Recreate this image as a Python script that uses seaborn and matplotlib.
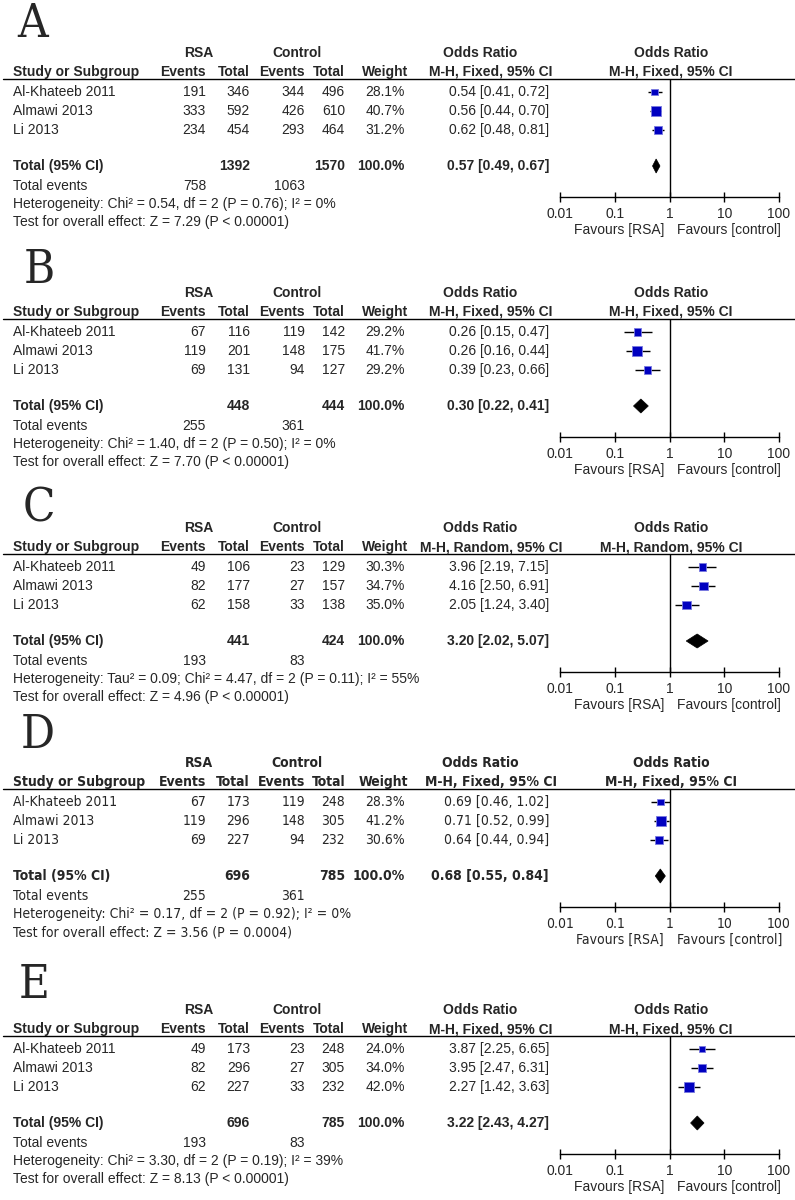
import numpy as np
import seaborn as sns
import matplotlib
matplotlib.use("Agg")
from matplotlib import pyplot as plt
from matplotlib.font_manager import FontProperties, findfont
from matplotlib.patches import Polygon
from matplotlib.ticker import NullLocator

sns.set_style("white")
plt.rcParams["font.family"] = ["Liberation Sans", "DejaVu Sans"]

studies = ["Al-Khateeb 2011", "Almawi 2013", "Li 2013"]

# A
a_rsa_ev = [191, 333, 234]
a_rsa_n = [346, 592, 454]
a_ctl_ev = [344, 426, 293]
a_ctl_n = [496, 610, 464]
a_weight = [28.1, 40.7, 31.2]
a_or = [0.54, 0.56, 0.62]
a_lo = [0.41, 0.44, 0.48]
a_hi = [0.72, 0.70, 0.81]
a_total = [1392, 1570, 758, 1063]
a_pooled = [0.57, 0.49, 0.67]
a_het = "Heterogeneity: Chi\u00b2 = 0.54, df = 2 (P = 0.76); I\u00b2 = 0%"
a_test = "Test for overall effect: Z = 7.29 (P < 0.00001)"

# B
b_rsa_ev = [67, 119, 69]
b_rsa_n = [116, 201, 131]
b_ctl_ev = [119, 148, 94]
b_ctl_n = [142, 175, 127]
b_weight = [29.2, 41.7, 29.2]
b_or = [0.26, 0.26, 0.39]
b_lo = [0.15, 0.16, 0.23]
b_hi = [0.47, 0.44, 0.66]
b_total = [448, 444, 255, 361]
b_pooled = [0.30, 0.22, 0.41]
b_het = "Heterogeneity: Chi\u00b2 = 1.40, df = 2 (P = 0.50); I\u00b2 = 0%"
b_test = "Test for overall effect: Z = 7.70 (P < 0.00001)"

# C
c_rsa_ev = [49, 82, 62]
c_rsa_n = [106, 177, 158]
c_ctl_ev = [23, 27, 33]
c_ctl_n = [129, 157, 138]
c_weight = [30.3, 34.7, 35.0]
c_or = [3.96, 4.16, 2.05]
c_lo = [2.19, 2.50, 1.24]
c_hi = [7.15, 6.91, 3.40]
c_total = [441, 424, 193, 83]
c_pooled = [3.20, 2.02, 5.07]
c_het = "Heterogeneity: Tau\u00b2 = 0.09; Chi\u00b2 = 4.47, df = 2 (P = 0.11); I\u00b2 = 55%"
c_test = "Test for overall effect: Z = 4.96 (P < 0.00001)"

# D
d_rsa_ev = [67, 119, 69]
d_rsa_n = [173, 296, 227]
d_ctl_ev = [119, 148, 94]
d_ctl_n = [248, 305, 232]
d_weight = [28.3, 41.2, 30.6]
d_or = [0.69, 0.71, 0.64]
d_lo = [0.46, 0.52, 0.44]
d_hi = [1.02, 0.99, 0.94]
d_total = [696, 785, 255, 361]
d_pooled = [0.68, 0.55, 0.84]
d_het = "Heterogeneity: Chi\u00b2 = 0.17, df = 2 (P = 0.92); I\u00b2 = 0%"
d_test = "Test for overall effect: Z = 3.56 (P = 0.0004)"

# E
e_rsa_ev = [49, 82, 62]
e_rsa_n = [173, 296, 227]
e_ctl_ev = [23, 27, 33]
e_ctl_n = [248, 305, 232]
e_weight = [24.0, 34.0, 42.0]
e_or = [3.87, 3.95, 2.27]
e_lo = [2.25, 2.47, 1.42]
e_hi = [6.65, 6.31, 3.63]
e_total = [696, 785, 193, 83]
e_pooled = [3.22, 2.43, 4.27]
e_het = "Heterogeneity: Chi\u00b2 = 3.30, df = 2 (P = 0.19); I\u00b2 = 39%"
e_test = "Test for overall effect: Z = 8.13 (P < 0.00001)"

fixed = "M-H, Fixed, 95% CI"
random_ = "M-H, Random, 95% CI"

panels = [
    dict(letter="A", base=0, lx=17, lb=37, method=fixed, narrow=False,
         rsa_ev=a_rsa_ev, rsa_n=a_rsa_n, ctl_ev=a_ctl_ev, ctl_n=a_ctl_n, w=a_weight,
         orr=a_or, lo=a_lo, hi=a_hi, tot=a_total, pool=a_pooled, het=a_het, test=a_test),
    dict(letter="B", base=240, lx=24, lb=283, method=fixed, narrow=False,
         rsa_ev=b_rsa_ev, rsa_n=b_rsa_n, ctl_ev=b_ctl_ev, ctl_n=b_ctl_n, w=b_weight,
         orr=b_or, lo=b_lo, hi=b_hi, tot=b_total, pool=b_pooled, het=b_het, test=b_test),
    dict(letter="C", base=475, lx=23, lb=522, method=random_, narrow=False,
         rsa_ev=c_rsa_ev, rsa_n=c_rsa_n, ctl_ev=c_ctl_ev, ctl_n=c_ctl_n, w=c_weight,
         orr=c_or, lo=c_lo, hi=c_hi, tot=c_total, pool=c_pooled, het=c_het, test=c_test),
    dict(letter="D", base=710, lx=21, lb=748, method=fixed, narrow=True,
         rsa_ev=d_rsa_ev, rsa_n=d_rsa_n, ctl_ev=d_ctl_ev, ctl_n=d_ctl_n, w=d_weight,
         orr=d_or, lo=d_lo, hi=d_hi, tot=d_total, pool=d_pooled, het=d_het, test=d_test),
    dict(letter="E", base=957, lx=19, lb=998, method=fixed, narrow=False,
         rsa_ev=e_rsa_ev, rsa_n=e_rsa_n, ctl_ev=e_ctl_ev, ctl_n=e_ctl_n, w=e_weight,
         orr=e_or, lo=e_lo, hi=e_hi, tot=e_total, pool=e_pooled, het=e_het, test=e_test),
]

W, H = 795, 1200


def condensed(family):
    try:
        path = findfont(FontProperties(family=family, stretch="condensed"),
                        fallback_to_default=False)
        return "Condensed" in path or "Narrow" in path
    except Exception:
        return False


sans = ["Liberation Sans", "DejaVu Sans"]
if condensed("Liberation Sans Narrow"):
    narrow_kw = dict(family=["Liberation Sans Narrow", "DejaVu Sans"], fontsize=11.8)
elif condensed("DejaVu Sans"):
    narrow_kw = dict(family=["DejaVu Sans"], fontstretch="condensed", fontsize=10)
else:
    narrow_kw = dict(family=sans, fontsize=10)

if condensed("DejaVu Serif"):
    letter_kw = dict(family=["DejaVu Serif"], fontstretch="condensed", fontsize=34)
else:
    letter_kw = dict(family=["Liberation Serif"], fontsize=36)

fig = plt.figure(figsize=(W / 100, H / 100), dpi=100)
tab = fig.add_axes([0, 0, 1, 1])
tab.set_xlim(0, W)
tab.set_ylim(H, 0)
tab.axis("off")

# right edges of the table columns
col_x = [206, 250, 305, 345, 405, 549]
row_step = 19


def ci_text(v):
    return f"{v[0]:.2f} [{v[1]:.2f}, {v[2]:.2f}]"


for p in panels:
    b = p["base"]
    fkw = narrow_kw if p["narrow"] else dict(family=sans, fontsize=10)
    kw = dict(fkw, va="center")
    bold = dict(kw, fontweight="bold")

    tab.text(p["lx"], p["lb"], p["letter"], ha="left", va="baseline", **letter_kw)

    # headers
    tab.text(199, b + 53, "RSA", ha="center", **bold)
    tab.text(297, b + 53, "Control", ha="center", **bold)
    tab.text(480, b + 53, "Odds Ratio", ha="center", **bold)
    tab.text(671, b + 53, "Odds Ratio", ha="center", **bold)
    tab.text(13, b + 72, "Study or Subgroup", ha="left", **bold)
    for x, lab in zip(col_x[:5], ["Events", "Total", "Events", "Total", "Weight"]):
        tab.text(x + (3 if lab == "Weight" else 0), b + 72, lab, ha="right", **bold)
    tab.text(491, b + 72, p["method"], ha="center", **bold)
    tab.text(671, b + 72, p["method"], ha="center", **bold)
    tab.plot([3, W], [b + 79, b + 79], color="black", lw=1)

    rows_y = [b + 92 + i * row_step for i in range(len(studies))]
    for i, y in enumerate(rows_y):
        tab.text(13, y, studies[i], ha="left", **kw)
        vals = [p["rsa_ev"][i], p["rsa_n"][i], p["ctl_ev"][i], p["ctl_n"][i],
                f"{p['w'][i]:.1f}%", ci_text([p["orr"][i], p["lo"][i], p["hi"][i]])]
        for x, v in zip(col_x, vals):
            tab.text(x, y, str(v), ha="right", **kw)

    ty = b + 166
    tab.text(13, ty, "Total (95% CI)", ha="left", **bold)
    tab.text(col_x[1], ty, str(p["tot"][0]), ha="right", **bold)
    tab.text(col_x[3], ty, str(p["tot"][1]), ha="right", **bold)
    tab.text(col_x[4], ty, "100.0%", ha="right", **bold)
    tab.text(col_x[5], ty, ci_text(p["pool"]), ha="right", **bold)

    tab.text(13, b + 186, "Total events", ha="left", **kw)
    tab.text(col_x[0], b + 186, str(p["tot"][2]), ha="right", **kw)
    tab.text(col_x[2], b + 186, str(p["tot"][3]), ha="right", **kw)
    tab.text(13, b + 204, p["het"], ha="left", **kw)
    tab.text(13, b + 222, p["test"], ha="left", **kw)

    tab.text(664, b + 230, "Favours [RSA]", ha="right", **kw)
    tab.text(677, b + 230, "Favours [control]", ha="left", **kw)

    # forest plot
    ax_top, ax_bot = b + 79, b + 197
    ax = fig.add_axes([560 / W, 1 - ax_bot / H, 219 / W, (ax_bot - ax_top) / H])
    ax.patch.set_visible(False)
    ax.set_xscale("log")
    ax.set_xlim(0.01, 100)
    ax.set_ylim(ax_bot, ax_top)
    ax.axvline(1, color="black", lw=1, zorder=1)
    ax.hlines(rows_y, p["lo"], p["hi"], color="black", lw=1, zorder=2)
    side_pt = [0.24 * w * 0.72 for w in p["w"]]
    sns.scatterplot(x=p["orr"], y=rows_y, marker="s", s=[s ** 2 for s in side_pt],
                    color="#0000c0", edgecolor="#7a7ae0", linewidth=0.6,
                    legend=False, ax=ax, zorder=3)
    pm, pl, ph = p["pool"]
    ax.add_patch(Polygon([[pl, ty], [pm, ty - 7], [ph, ty], [pm, ty + 7]],
                         closed=True, facecolor="black", edgecolor="black", lw=0.5, zorder=3))
    for s in ["top", "left", "right"]:
        ax.spines[s].set_visible(False)
    ax.spines["bottom"].set_color("black")
    ax.spines["bottom"].set_linewidth(1)
    ax.set_xticks([0.01, 0.1, 1, 10, 100])
    ax.set_xticklabels(["0.01", "0.1", "1", "10", "100"], **fkw)
    ax.xaxis.set_minor_locator(NullLocator())
    ax.tick_params(axis="x", direction="inout", length=7, width=1, color="black", pad=4,
                   bottom=True)
    ax.set_yticks([])
    ax.set_xlabel("")
    ax.set_ylabel("")

fig.savefig("out.png", dpi=100, facecolor="white")
